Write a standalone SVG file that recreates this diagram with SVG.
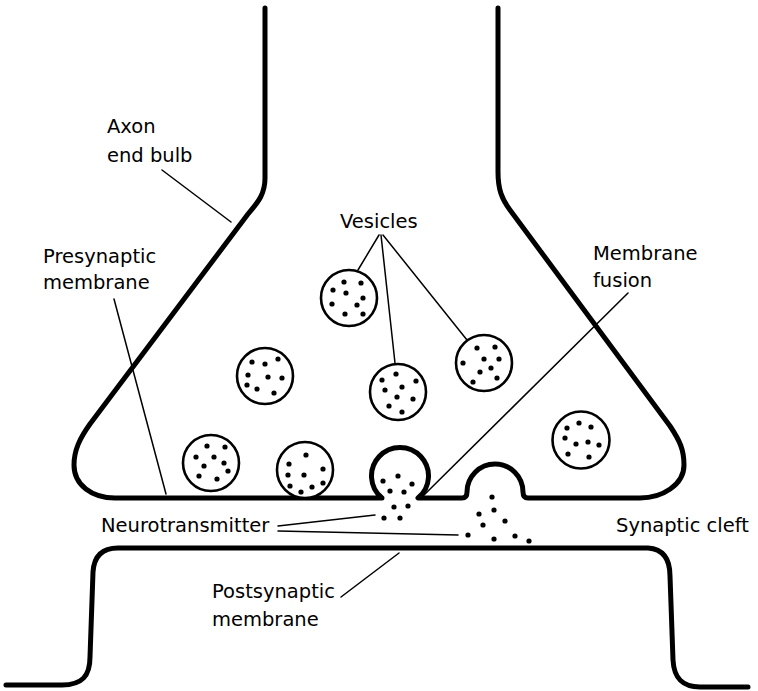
<svg xmlns="http://www.w3.org/2000/svg" width="758" height="691" viewBox="0 0 758 691">
  <style>
    .membrane { fill: none; stroke: #000; stroke-width: 5; stroke-linecap: round; stroke-linejoin: round; }
    .vesicle { fill: #fff; stroke: #000; stroke-width: 2.6; }
    .leader { fill: none; stroke: #000; stroke-width: 1.5; stroke-linecap: round; }
    .label { font-family: "DejaVu Sans", "Liberation Sans", Arial, sans-serif; font-size: 19.5px; fill: #000; }
    .dots circle { fill: #000; }
  </style>
  <defs>
    <circle id="d" r="2.6"/>
  </defs>
  <rect width="758" height="691" fill="#fff"/>

  <!-- axon end bulb outline, with the two fusion sites along the presynaptic membrane -->
  <g id="axon-end-bulb">
    <path class="membrane" d="M265 8 V178 C265 196 256 204 248 214 L90 424 C80 438 74 450 74 465 C74 485 92 498 115 498 H382 A28.5 28.5 0 1 1 418 498 H462 Q467 498 467 492 A28 28 0 0 1 523 492 Q523 498 528 498 H640 C662 498 684 485 684 465 C684 450 680 441 670 426 L510 210 C502 199 498 190 498 172 V8"/>
  </g>

  <!-- postsynaptic membrane -->
  <g id="postsynaptic-cell">
    <path class="membrane" d="M6 685 H62 C82 685 90 676 90 657 L93 572 C94 556 102 548 118 548 H648 C662 549 670 558 670 576 L673 660 C674 678 682 687 700 687 H748"/>
  </g>

  <!-- vesicles -->
  <g id="vesicle-1">
    <circle class="vesicle" cx="349" cy="298" r="28"/>
    <g class="dots">
      <use href="#d" x="333" y="290"/><use href="#d" x="344" y="282"/><use href="#d" x="361" y="283"/>
      <use href="#d" x="346" y="293"/><use href="#d" x="363" y="298"/><use href="#d" x="332" y="304"/>
      <use href="#d" x="357" y="305"/><use href="#d" x="345" y="314"/><use href="#d" x="363" y="314"/>
    </g>
  </g>
  <g id="vesicle-2">
    <circle class="vesicle" cx="265" cy="376" r="28"/>
    <g class="dots">
      <use href="#d" x="252" y="362"/><use href="#d" x="265" y="364"/><use href="#d" x="278" y="359"/>
      <use href="#d" x="248" y="375"/><use href="#d" x="268" y="377"/><use href="#d" x="282" y="378"/>
      <use href="#d" x="247" y="385"/><use href="#d" x="257" y="389"/><use href="#d" x="274" y="393"/>
    </g>
  </g>
  <g id="vesicle-3">
    <circle class="vesicle" cx="398" cy="392" r="28"/>
    <g class="dots">
      <use href="#d" x="396" y="374"/><use href="#d" x="382" y="380"/><use href="#d" x="416" y="381"/>
      <use href="#d" x="402" y="387"/><use href="#d" x="385" y="390"/><use href="#d" x="397" y="397"/>
      <use href="#d" x="413" y="399"/><use href="#d" x="389" y="406"/><use href="#d" x="402" y="412"/>
    </g>
  </g>
  <g id="vesicle-4">
    <circle class="vesicle" cx="484" cy="363" r="28"/>
    <g class="dots">
      <use href="#d" x="477" y="348"/><use href="#d" x="495" y="347"/><use href="#d" x="484" y="359"/>
      <use href="#d" x="499" y="359"/><use href="#d" x="463" y="363"/><use href="#d" x="491" y="368"/>
      <use href="#d" x="480" y="372"/><use href="#d" x="497" y="378"/><use href="#d" x="473" y="382"/>
    </g>
  </g>
  <g id="vesicle-5">
    <circle class="vesicle" cx="581" cy="440" r="28.5"/>
    <g class="dots">
      <use href="#d" x="567" y="428"/><use href="#d" x="579" y="423"/><use href="#d" x="591" y="427"/>
      <use href="#d" x="565" y="438"/><use href="#d" x="576" y="444"/><use href="#d" x="588" y="442"/>
      <use href="#d" x="599" y="445"/><use href="#d" x="568" y="454"/><use href="#d" x="589" y="457"/>
    </g>
  </g>
  <g id="vesicle-6">
    <circle class="vesicle" cx="211" cy="463" r="28"/>
    <g class="dots">
      <use href="#d" x="207" y="446"/><use href="#d" x="225" y="447"/><use href="#d" x="196" y="457"/>
      <use href="#d" x="214" y="457"/><use href="#d" x="224" y="463"/><use href="#d" x="204" y="466"/>
      <use href="#d" x="228" y="471"/><use href="#d" x="199" y="476"/><use href="#d" x="217" y="479"/>
    </g>
  </g>
  <g id="vesicle-7">
    <circle class="vesicle" cx="305" cy="470" r="28"/>
    <g class="dots">
      <use href="#d" x="306" y="455"/><use href="#d" x="289" y="464"/><use href="#d" x="323" y="469"/>
      <use href="#d" x="288" y="475"/><use href="#d" x="304" y="475"/><use href="#d" x="323" y="483"/>
      <use href="#d" x="290" y="486"/><use href="#d" x="312" y="487"/><use href="#d" x="301" y="492"/>
    </g>
  </g>

  <!-- neurotransmitter released at the two fusion sites -->
  <g id="neurotransmitter-release-1" class="dots">
    <use href="#d" x="383" y="481"/><use href="#d" x="398" y="476"/><use href="#d" x="412" y="484"/>
    <use href="#d" x="390" y="491"/><use href="#d" x="404" y="492"/><use href="#d" x="394" y="507"/>
    <use href="#d" x="408" y="506"/><use href="#d" x="384" y="518"/><use href="#d" x="400" y="518"/>
  </g>
  <g id="neurotransmitter-release-2" class="dots">
    <use href="#d" x="492" y="497"/><use href="#d" x="494" y="510"/><use href="#d" x="479" y="514"/>
    <use href="#d" x="505" y="521"/><use href="#d" x="483" y="525"/><use href="#d" x="468" y="535"/>
    <use href="#d" x="494" y="539"/><use href="#d" x="515" y="536"/><use href="#d" x="529" y="541"/>
  </g>

  <!-- label leader lines -->
  <g id="connectors">
    <line class="leader" x1="162" y1="170" x2="231" y2="222"/>
    <line class="leader" x1="114" y1="299" x2="166" y2="494"/>
    <line class="leader" x1="379" y1="235" x2="358" y2="270"/>
    <line class="leader" x1="381" y1="235" x2="395" y2="363"/>
    <line class="leader" x1="383" y1="235" x2="467" y2="340"/>
    <line class="leader" x1="628" y1="293" x2="422" y2="497"/>
    <line class="leader" x1="278" y1="526" x2="375" y2="515"/>
    <line class="leader" x1="278" y1="531" x2="458" y2="535"/>
    <line class="leader" x1="341" y1="597" x2="399" y2="553"/>
  </g>

  <!-- labels -->
  <g id="label-axon-end-bulb">
    <text class="label" x="107" y="133">Axon</text>
    <text class="label" x="107" y="162">end bulb</text>
  </g>
  <g id="label-presynaptic-membrane">
    <text class="label" x="43" y="263">Presynaptic</text>
    <text class="label" x="43" y="289">membrane</text>
  </g>
  <g id="label-vesicles">
    <text class="label" x="340" y="228">Vesicles</text>
  </g>
  <g id="label-membrane-fusion">
    <text class="label" x="593" y="260">Membrane</text>
    <text class="label" x="593" y="287">fusion</text>
  </g>
  <g id="label-neurotransmitter">
    <text class="label" x="101" y="532">Neurotransmitter</text>
  </g>
  <g id="label-synaptic-cleft">
    <text class="label" x="616" y="532">Synaptic cleft</text>
  </g>
  <g id="label-postsynaptic-membrane">
    <text class="label" x="212" y="598">Postsynaptic</text>
    <text class="label" x="212" y="626">membrane</text>
  </g>
</svg>
